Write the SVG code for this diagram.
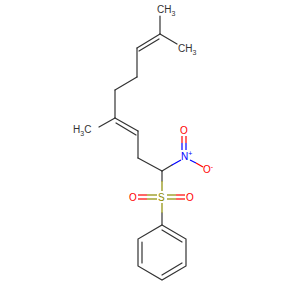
<svg xmlns="http://www.w3.org/2000/svg" width="300" height="300" viewBox="0 0 300 300">
<style>
.b{stroke:#333;stroke-width:1.2;fill:none;stroke-linecap:round}
.t{font-family:"Liberation Sans",Arial,sans-serif;font-size:10px}
.s{font-size:7px}
.o{fill:#f00}.n{fill:#00f}.sx{fill:#8c8c00}.c{fill:#333}
</style>
<rect width="300" height="300" fill="#fff"/>
<g id="bonds">
<line class="b" x1="160" y1="16" x2="160" y2="34"/>
<line class="b" x1="160" y1="34" x2="177" y2="44"/>
<line class="b" x1="160" y1="34" x2="137" y2="48"/>
<line class="b" x1="159" y1="39" x2="139" y2="51"/>
<line class="b" x1="137" y1="48" x2="137" y2="77"/>
<line class="b" x1="137" y1="77" x2="115" y2="90"/>
<line class="b" x1="115" y1="90" x2="115" y2="118"/>
<line class="b" x1="115" y1="118" x2="99" y2="127"/>
<line class="b" x1="115" y1="118" x2="138" y2="131"/>
<line class="b" x1="116" y1="123" x2="136" y2="135"/>
<line class="b" x1="138" y1="131" x2="138" y2="158"/>
<line class="b" x1="138" y1="158" x2="162" y2="171"/>
<line class="b" x1="162" y1="171" x2="172" y2="165"/>
<line x1="172" y1="165" x2="181" y2="160" stroke="#00f" stroke-width="1.2"/>
<line x1="182" y1="150" x2="182" y2="143" stroke="#00f" stroke-width="1.2"/>
<line x1="182" y1="143" x2="182" y2="136" stroke="#f00" stroke-width="1.2"/>
<line x1="186" y1="150" x2="186" y2="143" stroke="#00f" stroke-width="1.2"/>
<line x1="186" y1="143" x2="186" y2="136" stroke="#f00" stroke-width="1.2"/>
<line x1="190" y1="160" x2="196" y2="163" stroke="#00f" stroke-width="1.2"/>
<line x1="196" y1="163" x2="203" y2="167" stroke="#f00" stroke-width="1.2"/>
<line class="b" x1="162" y1="171" x2="162" y2="181"/>
<line x1="162" y1="181" x2="162" y2="191" stroke="#8c8c00" stroke-width="1.2"/>
<line x1="162" y1="203" x2="162" y2="213" stroke="#8c8c00" stroke-width="1.2"/>
<line class="b" x1="162" y1="213" x2="162" y2="225"/>
<line x1="138" y1="195" x2="147" y2="195" stroke="#f00" stroke-width="1.2"/>
<line x1="147" y1="195" x2="157" y2="195" stroke="#8c8c00" stroke-width="1.2"/>
<line x1="138" y1="199" x2="147" y2="199" stroke="#f00" stroke-width="1.2"/>
<line x1="147" y1="199" x2="157" y2="199" stroke="#8c8c00" stroke-width="1.2"/>
<line x1="167" y1="195" x2="176" y2="195" stroke="#8c8c00" stroke-width="1.2"/>
<line x1="176" y1="195" x2="185" y2="195" stroke="#f00" stroke-width="1.2"/>
<line x1="167" y1="199" x2="176" y2="199" stroke="#8c8c00" stroke-width="1.2"/>
<line x1="176" y1="199" x2="185" y2="199" stroke="#f00" stroke-width="1.2"/>
<polygon class="b" points="162,225 186,239 186,266 162,280 138,266 138,239"/>
<line class="b" x1="162" y1="230" x2="182" y2="242"/>
<line class="b" x1="182" y1="263" x2="162" y2="275"/>
<line class="b" x1="142" y1="242" x2="142" y2="263"/>
</g>
<g id="CH3-top"><text class="t c" x="157" y="13">CH<tspan class="s" dy="3">3</tspan></text></g>
<g id="CH3-right"><text class="t c" x="178" y="52">CH<tspan class="s" dy="3">3</tspan></text></g>
<g id="H3C-left"><text class="t c" x="73" y="133">H<tspan class="s" dy="3">3</tspan><tspan dy="-3">C</tspan></text></g>
<g id="N"><text class="t n" x="181" y="160">N<tspan class="s" dy="-4">+</tspan></text></g>
<g id="O-top"><text class="t o" x="180" y="134">O</text></g>
<g id="O-minus"><text class="t o" x="203" y="173">O<tspan class="s" dy="-4">-</tspan></text></g>
<g id="S"><text class="t sx" x="158" y="201">S</text></g>
<g id="O-left"><text class="t o" x="129" y="201">O</text></g>
<g id="O-right"><text class="t o" x="186" y="201">O</text></g>
</svg>
